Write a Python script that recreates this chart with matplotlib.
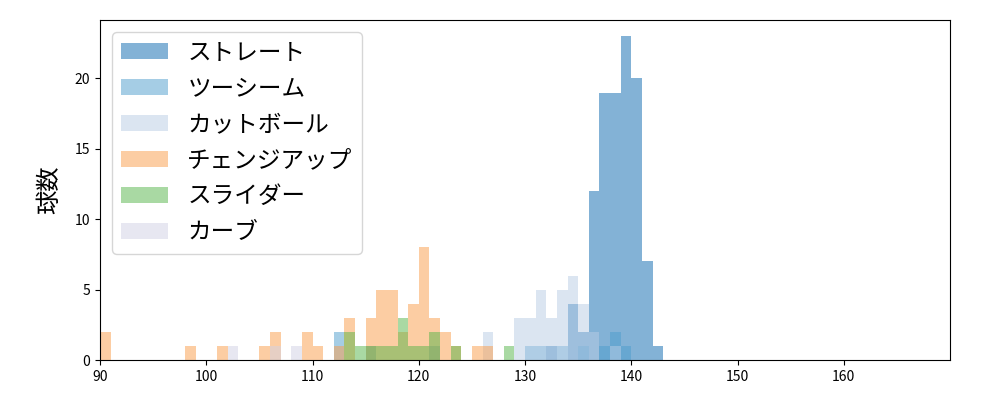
import numpy as np
import matplotlib
matplotlib.use("Agg")
import matplotlib.pyplot as plt

plt.rcParams["font.family"] = ["Noto Sans CJK JP", "DejaVu Sans"]

# speed bins (km/h, left edge) and pitch counts per bin
straight_speed = [132, 134, 135, 136, 137, 138, 139, 140, 141, 142]
straight_count = [1, 4, 2, 12, 19, 19, 23, 20, 7, 1]

twoseam_speed = [112, 115, 121, 130, 131, 133, 135, 137, 138, 139]
twoseam_count = [2, 1, 1, 1, 1, 1, 1, 1, 2, 1]

cutball_speed = [126, 129, 130, 131, 132, 133, 134, 135, 136, 138]
cutball_count = [2, 3, 3, 5, 3, 5, 6, 4, 2, 1]

changeup_speed = [90, 98, 101, 105, 106, 109, 110, 112, 113, 115, 116, 117,
                  118, 119, 120, 121, 122, 123, 125, 126]
changeup_count = [2, 1, 1, 1, 2, 2, 1, 1, 3, 3, 5, 5, 2, 4, 8, 3, 2, 1, 1, 1]

slider_speed = [113, 114, 115, 116, 117, 118, 119, 120, 121, 123, 128]
slider_count = [2, 1, 1, 1, 1, 3, 1, 1, 2, 1, 1]

curve_speed = [102, 106, 108]
curve_count = [1, 1, 1]

series = [
    ("ストレート", straight_speed, straight_count, "#0967af"),
    ("ツーシーム", twoseam_speed, twoseam_count, "#4d9dcd"),
    ("カットボール", cutball_speed, cutball_count, "#b9cde5"),
    ("チェンジアップ", changeup_speed, changeup_count, "#fb9d49"),
    ("スライダー", slider_speed, slider_count, "#55b549"),
    ("カーブ", curve_speed, curve_count, "#d1d1e5"),
]

bins = np.arange(90, 171, 1)

fig, ax = plt.subplots(figsize=(10, 4), dpi=100)
fig.subplots_adjust(left=0.1, right=0.95, bottom=0.1, top=0.95)

for label, speed, count, color in series:
    ax.hist(np.array(speed) + 0.5, bins=bins, weights=count,
            color=color, alpha=0.5, label=label)

ax.set_xlim(90, 170)
ax.set_ylim(0, 24.15)
ax.set_xticks(range(90, 161, 10))
ax.set_yticks(range(0, 21, 5))
ax.tick_params(labelsize=10)
ax.set_ylabel("球数", fontsize=17.5, labelpad=9)
ax.legend(loc="upper left", fontsize=17, handlelength=2.0, labelspacing=0.55)

fig.savefig("out.png")
